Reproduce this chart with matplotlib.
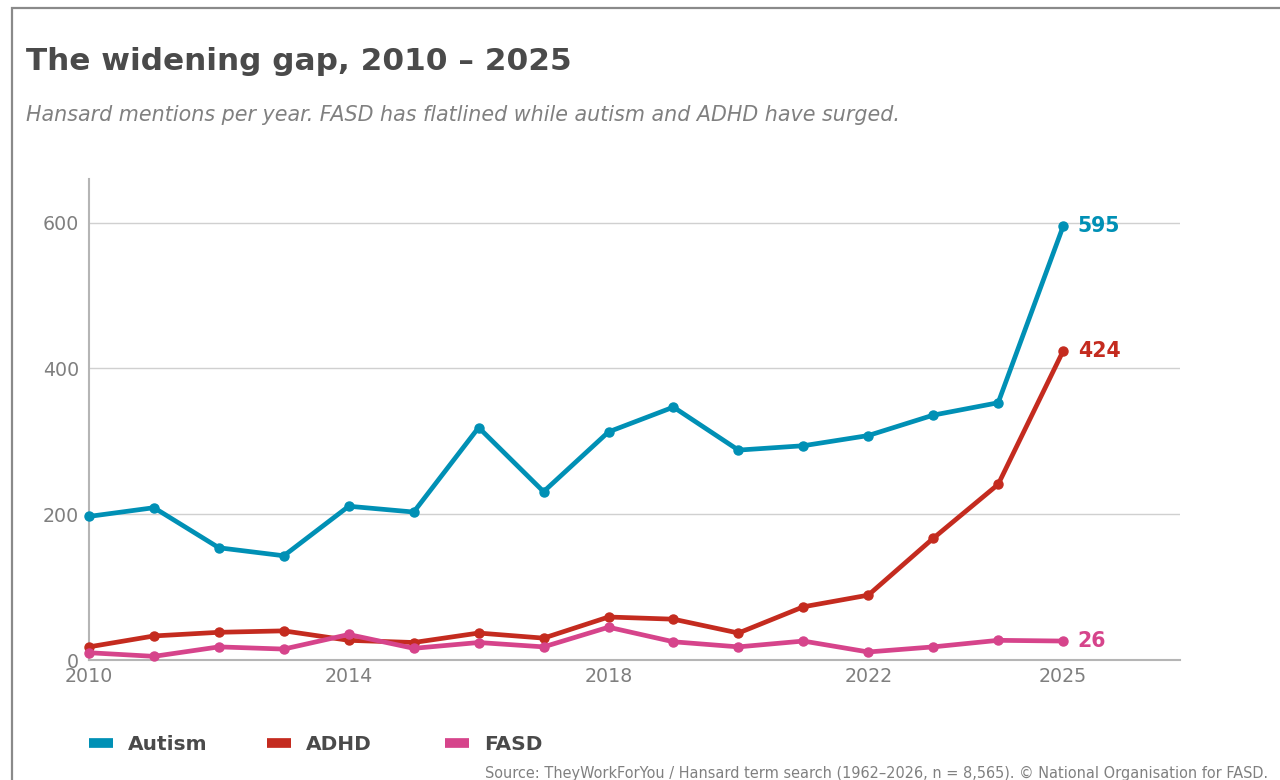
import matplotlib
matplotlib.use("Agg")
import matplotlib.pyplot as plt
from matplotlib.lines import Line2D
from matplotlib.patches import Rectangle

# Hansard mentions per year
years = list(range(2010, 2026))
autism = [197, 209, 154, 143, 211, 203, 319, 231, 313, 347, 288, 294, 308, 336, 353, 595]
adhd = [18, 33, 38, 40, 27, 24, 37, 30, 59, 56, 37, 73, 89, 167, 241, 424]
fasd = [10, 5, 18, 15, 35, 16, 24, 18, 45, 25, 18, 26, 11, 18, 27, 26]

series_names = ["Autism", "ADHD", "FASD"]
series_colors = ["#0090B5", "#C42B1F", "#D6448B"]
x_ticks = [2010, 2014, 2018, 2022, 2025]
y_ticks = [0, 200, 400, 600]

title = "The widening gap, 2010 \u2013 2025"
subtitle = "Hansard mentions per year. FASD has flatlined while autism and ADHD have surged."
source = ("Source: TheyWorkForYou / Hansard term search (1962\u20132026, n = 8,565). "
          "\u00a9 National Organisation for FASD.")

plt.rcParams["font.family"] = ["DejaVu Sans"]

W, H = 1280, 780
fig = plt.figure(figsize=(W / 100, H / 100), dpi=100)
fig.patch.set_facecolor("white")

# outer frame (runs off the right and bottom edges)
fig.patches.append(Rectangle((12 / W, -0.05), 1.2, 1 - 8 / H + 0.05,
                             transform=fig.transFigure, fill=False,
                             edgecolor="#8a8a8a", linewidth=1.6, zorder=0))

ax = fig.add_axes([89 / W, (H - 660) / H, (1180 - 89) / W, (660 - 179) / H])

for vals, name, col in zip([autism, adhd, fasd], series_names, series_colors):
    ax.plot(years, vals, color=col, lw=3.4, marker="o", ms=6.5,
            solid_joinstyle="round", zorder=3, label=name, clip_on=False)
    ax.annotate(str(vals[-1]), xy=(years[-1], vals[-1]), xytext=(10.5, 0),
                textcoords="offset points", color=col, fontsize=14.8,
                fontweight="bold", va="center", ha="left")

ax.set_xlim(2010, 2026.8)
ax.set_ylim(0, 660)
ax.set_xticks(x_ticks)
ax.set_yticks(y_ticks)
ax.tick_params(axis="both", length=0, labelsize=13.7, labelcolor="#7f7f7f")
ax.tick_params(axis="y", pad=7)
ax.tick_params(axis="x", pad=5)
ax.grid(axis="y", color="#d0d0d0", lw=1)
ax.set_axisbelow(True)
for s in ["top", "right"]:
    ax.spines[s].set_visible(False)
for s in ["left", "bottom"]:
    ax.spines[s].set_color("#b5b5b5")
    ax.spines[s].set_linewidth(1.5)

fig.text(26 / W, 1 - 61 / H, title, fontsize=22.4, fontweight="bold",
         color="#4a4a4a", va="center", ha="left")
fig.text(26 / W, 1 - 115 / H, subtitle, fontsize=14.9, style="italic",
         color="#808080", va="center", ha="left")

# legend entries placed individually along the bottom
legend_x = [89, 267, 445]
for name, col, lx in zip(series_names, series_colors, legend_x):
    h = Line2D([], [], color=col, lw=7, solid_capstyle="butt")
    fig.legend([h], [name], loc="center left",
               bbox_to_anchor=(lx / W, 1 - 745 / H), frameon=False,
               borderpad=0, borderaxespad=0, handlelength=1.2,
               handletextpad=0.75,
               prop={"size": 14.5, "weight": "bold"}, labelcolor="#4a4a4a")

fig.text(1268 / W, 1 - 773 / H, source, fontsize=10.45, color="#808080",
         ha="right", va="center")

fig.savefig("out.png", dpi=100)
